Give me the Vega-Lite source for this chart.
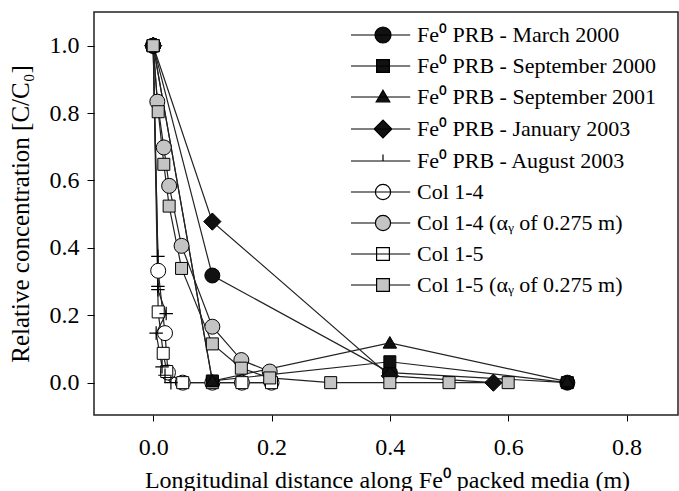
{
  "$schema": "https://vega.github.io/schema/vega-lite/v6.json",
  "width": 584,
  "height": 403,
  "autosize": {"type": "none"},
  "padding": {"left": 94, "top": 12, "right": 1, "bottom": 76},
  "background": "white",
  "config": {"view": {"stroke": "#222", "strokeWidth": 1.5}, "font": "Liberation Serif"},
  "data": {"values": [
    {"series": "Col 1-4", "k": 0, "x": 0, "y": 1},
    {"series": "Col 1-4", "k": 1, "x": 0.0085, "y": 0.332},
    {"series": "Col 1-4", "k": 2, "x": 0.02, "y": 0.147},
    {"series": "Col 1-4", "k": 3, "x": 0.025, "y": 0.03},
    {"series": "Col 1-4", "k": 4, "x": 0.05, "y": 0.0},
    {"series": "Col 1-4", "k": 5, "x": 0.1, "y": 0.0},
    {"series": "Col 1-4", "k": 6, "x": 0.15, "y": 0.0},
    {"series": "Col 1-4", "k": 7, "x": 0.2, "y": 0.0},
    {"series": "Col 1-5", "k": 0, "x": 0, "y": 1},
    {"series": "Col 1-5", "k": 1, "x": 0.0085, "y": 0.21},
    {"series": "Col 1-5", "k": 2, "x": 0.017, "y": 0.087},
    {"series": "Col 1-5", "k": 3, "x": 0.023, "y": 0.033},
    {"series": "Col 1-5", "k": 4, "x": 0.05, "y": 0.0},
    {"series": "Col 1-5", "k": 5, "x": 0.1, "y": 0.0},
    {"series": "Col 1-5", "k": 6, "x": 0.15, "y": 0.0},
    {"series": "Col 1-5", "k": 7, "x": 0.2, "y": 0.0},
    {"series": "Col 1-4 (αᵧ of 0.275 m)", "k": 0, "x": 0, "y": 1},
    {"series": "Col 1-4 (αᵧ of 0.275 m)", "k": 1, "x": 0.007, "y": 0.834},
    {"series": "Col 1-4 (αᵧ of 0.275 m)", "k": 2, "x": 0.018, "y": 0.698},
    {"series": "Col 1-4 (αᵧ of 0.275 m)", "k": 3, "x": 0.027, "y": 0.584},
    {"series": "Col 1-4 (αᵧ of 0.275 m)", "k": 4, "x": 0.048, "y": 0.406},
    {"series": "Col 1-4 (αᵧ of 0.275 m)", "k": 5, "x": 0.1, "y": 0.166},
    {"series": "Col 1-4 (αᵧ of 0.275 m)", "k": 6, "x": 0.149, "y": 0.067},
    {"series": "Col 1-4 (αᵧ of 0.275 m)", "k": 7, "x": 0.197, "y": 0.033},
    {"series": "Fe⁰ PRB - August 2003", "k": 0, "x": 0, "y": 1},
    {"series": "Fe⁰ PRB - August 2003", "k": 1, "x": 0.008, "y": 0.375},
    {"series": "Fe⁰ PRB - August 2003", "k": 2, "x": 0.008, "y": 0.286},
    {"series": "Fe⁰ PRB - August 2003", "k": 3, "x": 0.008, "y": 0.276},
    {"series": "Fe⁰ PRB - August 2003", "k": 4, "x": 0.022, "y": 0.205},
    {"series": "Fe⁰ PRB - August 2003", "k": 5, "x": 0.005, "y": 0.147},
    {"series": "Fe⁰ PRB - August 2003", "k": 6, "x": 0.015, "y": 0.047},
    {"series": "Fe⁰ PRB - August 2003", "k": 7, "x": 0.02, "y": 0.022},
    {"series": "Fe⁰ PRB - August 2003", "k": 8, "x": 0.03, "y": 0.0},
    {"series": "Fe⁰ PRB - March 2000", "k": 0, "x": 0, "y": 1},
    {"series": "Fe⁰ PRB - March 2000", "k": 1, "x": 0.1, "y": 0.318},
    {"series": "Fe⁰ PRB - March 2000", "k": 2, "x": 0.4, "y": 0.03},
    {"series": "Fe⁰ PRB - March 2000", "k": 3, "x": 0.7, "y": 0.0},
    {"series": "Fe⁰ PRB - September 2000", "k": 0, "x": 0, "y": 1},
    {"series": "Fe⁰ PRB - September 2000", "k": 1, "x": 0.1, "y": 0.005},
    {"series": "Fe⁰ PRB - September 2000", "k": 2, "x": 0.4, "y": 0.062},
    {"series": "Fe⁰ PRB - September 2000", "k": 3, "x": 0.7, "y": 0.0},
    {"series": "Fe⁰ PRB - September 2001", "k": 0, "x": 0, "y": 1},
    {"series": "Fe⁰ PRB - September 2001", "k": 1, "x": 0.1, "y": 0.005},
    {"series": "Fe⁰ PRB - September 2001", "k": 2, "x": 0.4, "y": 0.118},
    {"series": "Fe⁰ PRB - September 2001", "k": 3, "x": 0.7, "y": 0.003},
    {"series": "Fe⁰ PRB - January 2003", "k": 0, "x": 0, "y": 1},
    {"series": "Fe⁰ PRB - January 2003", "k": 1, "x": 0.1, "y": 0.478},
    {"series": "Fe⁰ PRB - January 2003", "k": 2, "x": 0.4, "y": 0.02},
    {"series": "Fe⁰ PRB - January 2003", "k": 3, "x": 0.575, "y": 0.0},
    {"series": "Col 1-5 (αᵧ of 0.275 m)", "k": 0, "x": 0, "y": 1},
    {"series": "Col 1-5 (αᵧ of 0.275 m)", "k": 1, "x": 0.0085, "y": 0.804},
    {"series": "Col 1-5 (αᵧ of 0.275 m)", "k": 2, "x": 0.018, "y": 0.648},
    {"series": "Col 1-5 (αᵧ of 0.275 m)", "k": 3, "x": 0.027, "y": 0.524},
    {"series": "Col 1-5 (αᵧ of 0.275 m)", "k": 4, "x": 0.048, "y": 0.339},
    {"series": "Col 1-5 (αᵧ of 0.275 m)", "k": 5, "x": 0.1, "y": 0.115},
    {"series": "Col 1-5 (αᵧ of 0.275 m)", "k": 6, "x": 0.149, "y": 0.043},
    {"series": "Col 1-5 (αᵧ of 0.275 m)", "k": 7, "x": 0.197, "y": 0.014},
    {"series": "Col 1-5 (αᵧ of 0.275 m)", "k": 8, "x": 0.3, "y": 0.0},
    {"series": "Col 1-5 (αᵧ of 0.275 m)", "k": 9, "x": 0.4, "y": 0.0},
    {"series": "Col 1-5 (αᵧ of 0.275 m)", "k": 10, "x": 0.5, "y": 0.0},
    {"series": "Col 1-5 (αᵧ of 0.275 m)", "k": 11, "x": 0.6, "y": 0.0}
  ]},
  "encoding": {
    "x": {"field": "x", "type": "quantitative",
      "scale": {"domain": [-0.1, 0.887], "nice": false, "zero": false},
      "axis": {"values": [0, 0.2, 0.4, 0.6, 0.8], "format": ".1f", "grid": false, "domain": false,
        "tickSize": 6, "tickColor": "black", "labelFontSize": 24, "labelPadding": 14, "labelColor": "black",
        "labelFont": "Liberation Serif",
        "title": "Longitudinal distance along Fe⁰ packed media (m)", "titleFont": "Liberation Serif",
        "titleFontSize": 24, "titleFontWeight": "normal", "titleColor": "black",
        "titleBaseline": "alphabetic", "titleY": 72, "titleX": 293}},
    "y": {"field": "y", "type": "quantitative",
      "scale": {"domain": [-0.096, 1.1], "nice": false, "zero": false},
      "axis": {"values": [0, 0.2, 0.4, 0.6, 0.8, 1.0], "format": ".1f", "grid": false, "domain": false,
        "tickSize": 7, "tickColor": "black", "labelFontSize": 24, "labelPadding": 8, "labelColor": "black",
        "labelFont": "Liberation Serif",
        "title": "Relative concentration [C/C₀]", "titleFont": "Liberation Serif",
        "titleFontSize": 25, "titleFontWeight": "normal", "titleColor": "black",
        "titleBaseline": "alphabetic", "titleX": -66, "titleY": 201.5, "titleAngle": -90}}
  },
  "layer": [
    {"mark": {"type": "line", "color": "#222", "strokeWidth": 1.2},
     "encoding": {"detail": {"field": "series"}, "order": {"field": "k", "type": "quantitative"}}},
    {"transform": [{"filter": {"field": "series", "equal": "Col 1-4"}}],
     "mark": {"type": "point", "shape": "circle", "fill": "white", "stroke": "black", "strokeWidth": 1, "opacity": 1, "size": 225}},
    {"transform": [{"filter": {"field": "series", "equal": "Col 1-5"}}],
     "mark": {"type": "point", "shape": "M-0.8,-0.8H0.8V0.8H-0.8Z", "fill": "white", "stroke": "black", "strokeWidth": 1, "opacity": 1, "size": 225}},
    {"transform": [{"filter": {"field": "series", "equal": "Col 1-4 (αᵧ of 0.275 m)"}}],
     "mark": {"type": "point", "shape": "circle", "fill": "#c4c4c4", "stroke": "black", "strokeWidth": 1, "opacity": 1, "size": 225}},
    {"transform": [{"filter": {"field": "series", "equal": "Fe⁰ PRB - August 2003"}}],
     "mark": {"type": "point", "shape": "M-0.9,0H0.9M0,-0.9V0.9", "fill": "transparent", "stroke": "black", "strokeWidth": 1.2, "opacity": 1, "size": 225}},
    {"transform": [{"filter": {"field": "series", "equal": "Fe⁰ PRB - March 2000"}}],
     "mark": {"type": "point", "shape": "circle", "fill": "#111", "stroke": "black", "strokeWidth": 1, "opacity": 1, "size": 225}},
    {"transform": [{"filter": {"field": "series", "equal": "Fe⁰ PRB - September 2000"}}],
     "mark": {"type": "point", "shape": "M-0.8,-0.8H0.8V0.8H-0.8Z", "fill": "#111", "stroke": "black", "strokeWidth": 1, "opacity": 1, "size": 225}},
    {"transform": [{"filter": {"field": "series", "equal": "Fe⁰ PRB - September 2001"}}],
     "mark": {"type": "point", "shape": "M0,-0.85L0.9,0.7H-0.9Z", "fill": "#111", "stroke": "black", "strokeWidth": 1, "opacity": 1, "size": 225}},
    {"transform": [{"filter": {"field": "series", "equal": "Fe⁰ PRB - January 2003"}}],
     "mark": {"type": "point", "shape": "M-1.15,0L0,-1.15L1.15,0L0,1.15Z", "fill": "#111", "stroke": "black", "strokeWidth": 1, "opacity": 1, "size": 225}},
    {"transform": [{"filter": {"field": "series", "equal": "Col 1-5 (αᵧ of 0.275 m)"}}],
     "mark": {"type": "point", "shape": "M-0.8,-0.8H0.8V0.8H-0.8Z", "fill": "#c4c4c4", "stroke": "black", "strokeWidth": 1, "opacity": 1, "size": 225}},
    {"mark": {"type": "point", "filled": true, "strokeWidth": 1.2, "opacity": 0, "size": 256},
     "encoding": {
       "shape": {"field": "series", "type": "nominal",
         "scale": {"domain": ["Fe⁰ PRB - March 2000", "Fe⁰ PRB - September 2000", "Fe⁰ PRB - September 2001", "Fe⁰ PRB - January 2003", "Fe⁰ PRB - August 2003", "Col 1-4", "Col 1-4 (αᵧ of 0.275 m)", "Col 1-5", "Col 1-5 (αᵧ of 0.275 m)"],
           "range": ["M-4,0H3.4M-1,0A1,1,0,1,1,1,0A1,1,0,1,1,-1,0Z", "M-4,0H3.4M-0.8,-0.8H0.8V0.8H-0.8Z", "M-4,0H3.4M0,-0.85L0.85,0.6H-0.85Z", "M-4,0H3.4M-1.1,0L0,-1.1L1.1,0L0,1.1Z", "M-4,0H3.4M0,-0.8V0", "M-4,0H3.4M-0.95,0A0.95,0.95,0,1,1,0.95,0A0.95,0.95,0,1,1,-0.95,0Z", "M-4,0H-0.95M0.95,0H3.4M-0.95,0A0.95,0.95,0,1,1,0.95,0A0.95,0.95,0,1,1,-0.95,0Z", "M-4,0H3.4M-0.8,-0.8H0.8V0.8H-0.8Z", "M-4,0H-0.8M0.8,0H3.4M-0.8,-0.8H0.8V0.8H-0.8Z"]},
         "legend": {"orient": "none", "legendX": 278, "legendY": 12, "title": null,
           "labelFont": "Liberation Serif", "labelFontSize": 22, "labelColor": "black", "labelLimit": 400,
           "symbolSize": 256, "labelOffset": 23, "rowPadding": 9, "padding": 0,
           "symbolOpacity": 1, "symbolStrokeWidth": 1.2}},
       "fill": {"field": "series", "type": "nominal",
         "scale": {"domain": ["Fe⁰ PRB - March 2000", "Fe⁰ PRB - September 2000", "Fe⁰ PRB - September 2001", "Fe⁰ PRB - January 2003", "Fe⁰ PRB - August 2003", "Col 1-4", "Col 1-4 (αᵧ of 0.275 m)", "Col 1-5", "Col 1-5 (αᵧ of 0.275 m)"],
           "range": ["#111", "#111", "#111", "#111", "transparent", "white", "#c4c4c4", "white", "#c4c4c4"]},
         "legend": {"orient": "none", "legendX": 278, "legendY": 12, "title": null,
           "labelFont": "Liberation Serif", "labelFontSize": 22, "labelColor": "black", "labelLimit": 400,
           "symbolSize": 256, "labelOffset": 23, "rowPadding": 9, "padding": 0,
           "symbolOpacity": 1, "symbolStrokeWidth": 1.2}},
       "stroke": {"field": "series", "type": "nominal",
         "scale": {"domain": ["Fe⁰ PRB - March 2000", "Fe⁰ PRB - September 2000", "Fe⁰ PRB - September 2001", "Fe⁰ PRB - January 2003", "Fe⁰ PRB - August 2003", "Col 1-4", "Col 1-4 (αᵧ of 0.275 m)", "Col 1-5", "Col 1-5 (αᵧ of 0.275 m)"],
           "range": ["black", "black", "black", "black", "black", "black", "black", "black", "black"]},
         "legend": {"orient": "none", "legendX": 278, "legendY": 12, "title": null,
           "labelFont": "Liberation Serif", "labelFontSize": 22, "labelColor": "black", "labelLimit": 400,
           "symbolSize": 256, "labelOffset": 23, "rowPadding": 9, "padding": 0,
           "symbolOpacity": 1, "symbolStrokeWidth": 1.2}}
     }}
  ]
}
